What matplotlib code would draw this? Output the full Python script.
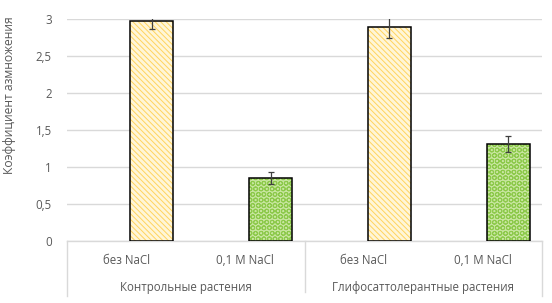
import matplotlib
matplotlib.use("Agg")
import matplotlib.pyplot as plt
import numpy as np

# Data
groups = ["Контрольные растения", "Глифосаттолерантные растения"]
conditions = ["без NaCl", "0,1 M NaCl", "без NaCl", "0,1 M NaCl"]
values = [2.97, 0.85, 2.89, 1.31]
errors = [0.10, 0.08, 0.14, 0.11]
y_ticks = [0, 0.5, 1, 1.5, 2, 2.5, 3]
y_tick_labels = ["0", "0,5", "1", "1,5", "2", "2,5", "3"]
ylabel = "Коэффициент азмножения"

plt.rcParams['font.family'] = ['Open Sans', 'DejaVu Sans']
plt.rcParams['hatch.linewidth'] = 0.7

W, H = 552, 303
fig = plt.figure(figsize=(W / 100, H / 100), dpi=100)
L, R, T, B = 67, 542, 19, 241
ax = fig.add_axes([L / W, 1 - B / H, (R - L) / W, (B - T) / H])

ax.set_xlim(0, 4)
ax.set_ylim(0, 3)

FS = 8.3
TC = '#595959'

cats = np.arange(len(values))
offset = 0.715
width = 0.362
face = ['#FFF6D8', '#C8E6A0', '#FFF6D8', '#C8E6A0']
hcol = ['#FFD45E', '#8CC94A', '#FFD45E', '#8CC94A']
hatches = ['\\\\\\\\\\\\', 'OOO', '\\\\\\\\\\\\', 'OOO']

for i in cats:
    ax.bar(cats[i] + offset, values[i], width, color=face[i], edgecolor=hcol[i],
           hatch=hatches[i], linewidth=0, zorder=2)
    ax.bar(cats[i] + offset, values[i], width, fill=False, edgecolor='black',
           linewidth=1.1, zorder=3)
ax.errorbar(cats + offset, values, yerr=errors, fmt='none', ecolor='#404040',
            elinewidth=0.9, capsize=2.5, capthick=0.9, zorder=4)

ax.set_yticks(y_ticks)
ax.set_yticklabels(y_tick_labels, fontsize=FS, color=TC)
ax.tick_params(axis='y', length=0, pad=11)
ax.set_xticks([])
ax.yaxis.grid(True, color='#D9D9D9', linewidth=1.0, zorder=0)
ax.set_axisbelow(True)
for s in ['top', 'right', 'left']:
    ax.spines[s].set_visible(False)
ax.spines['bottom'].set_color('#D9D9D9')
ax.spines['bottom'].set_linewidth(1.0)

fig.text(10 / W, 1 - 95 / H, ylabel, rotation=90, ha='center', va='center',
         fontsize=FS + 0.4, color=TC)

trans = ax.get_xaxis_transform()
px = 1 / (B - T)
for i, c in enumerate(conditions):
    ax.text(i + 0.5, -(261 - B) * px, c, transform=trans, ha='center', va='center',
            fontsize=FS, color=TC, clip_on=False)
for g, name in enumerate(groups):
    ax.text(2 * g + 1, -(287 - B) * px, name, transform=trans, ha='center', va='center',
            fontsize=FS, color=TC, clip_on=False)

for xv, y2 in [(0, 296), (2, 292), (4, 296)]:
    ax.plot([xv, xv], [0, -(y2 - B) * px], transform=trans, color='#D9D9D9',
            linewidth=1.0, clip_on=False, zorder=1)

fig.savefig("out.png", dpi=100)
